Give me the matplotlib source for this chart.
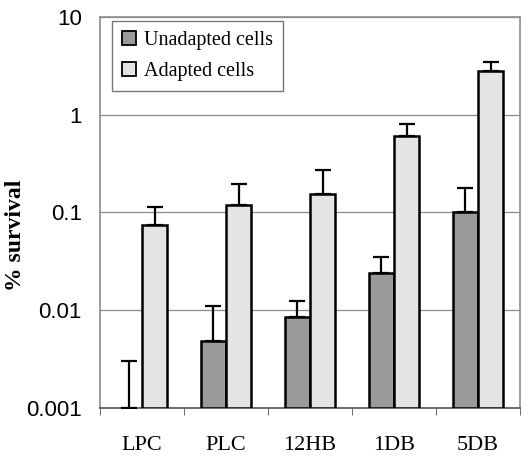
import matplotlib
matplotlib.use("Agg")
import matplotlib.pyplot as plt
from matplotlib.patches import Patch
import numpy as np

categories = ["LPC", "PLC", "12HB", "1DB", "5DB"]
unadapted = [0.0, 0.0049, 0.0086, 0.024, 0.10]
unadapted_err_top = [0.003, 0.011, 0.0125, 0.035, 0.18]
adapted = [0.074, 0.118, 0.153, 0.60, 2.8]
adapted_err_top = [0.115, 0.198, 0.275, 0.81, 3.45]
yticks = [0.001, 0.01, 0.1, 1, 10]
ytick_labels = ["0.001", "0.01", "0.1", "1", "10"]
series_names = ["Unadapted cells", "Adapted cells"]
series_colors = ["#9a9a9a", "#e4e4e4"]

fig = plt.figure(figsize=(5.30, 4.61), dpi=100)
ax = fig.add_axes([100/530, 1-408/461, 420/530, 391/461])

x = np.arange(len(categories))
w = 0.3
bottom = 0.001
un_h = [max(v, bottom) - bottom for v in unadapted]
ad_h = [v - bottom for v in adapted]

ub = ax.bar(x - w/2, un_h, w, bottom=bottom, color=series_colors[0], edgecolor="black",
            linewidth=1.8, zorder=3)
ax.bar(x + w/2, ad_h, w, bottom=bottom, color=series_colors[1], edgecolor="black",
       linewidth=1.8, zorder=3)
for p, v in zip(ub.patches, unadapted):
    if v <= bottom:
        p.set_visible(False)

un_base = [max(v, bottom) for v in unadapted]
for xi, b, t in zip(x - w/2, un_base, unadapted_err_top):
    ax.errorbar([xi], [b], yerr=[[0], [t - b]], fmt="none", ecolor="black",
                elinewidth=1.6, capsize=6, capthick=1.6, zorder=4)
for xi, b, t in zip(x + w/2, adapted, adapted_err_top):
    ax.errorbar([xi], [b], yerr=[[0], [t - b]], fmt="none", ecolor="black",
                elinewidth=1.6, capsize=6, capthick=1.6, zorder=4)

ax.set_yscale("log")
ax.set_ylim(0.001, 10)
ax.set_xlim(-0.5, len(categories) - 0.5)
ax.set_yticks(yticks)
ax.set_yticklabels(ytick_labels, fontfamily="Liberation Sans", fontsize=16)
ax.yaxis.set_minor_locator(matplotlib.ticker.NullLocator())
ax.tick_params(axis="y", length=0, pad=13)
ax.set_xticks(x)
ax.set_xticklabels(categories, fontfamily="Liberation Serif", fontsize=16)
ax.tick_params(axis="x", length=0, pad=20)
ax.set_xticks(np.arange(len(categories) + 1) - 0.5, minor=True)
ax.tick_params(axis="x", which="minor", length=5, color="#555555")
ax.grid(axis="y", which="major", color="#8c8c8c", linewidth=0.9, zorder=0)
for s in ["top", "right", "left"]:
    ax.spines[s].set_color("#8c8c8c")
    ax.spines[s].set_linewidth(1.2)
ax.spines["bottom"].set_color("#555555")
ax.spines["bottom"].set_linewidth(1.2)

fig.text(16/530, 1-235/461, "% survival", rotation=90, ha="center", va="center",
         fontfamily="Liberation Serif", fontweight="bold", fontsize=17)

handles = [Patch(facecolor=c, edgecolor="black", linewidth=1.3) for c in series_colors]
leg = ax.legend(handles, series_names, loc="upper left", bbox_to_anchor=(0.029, 0.99),
                borderaxespad=0,
                prop={"family": "Liberation Serif", "size": 14.5},
                frameon=True, fancybox=False, edgecolor="#555555",
                handlelength=0.7, handleheight=0.7, handletextpad=0.4,
                borderpad=0.5, labelspacing=0.6)
leg.get_frame().set_linewidth(1.0)

fig.savefig("out.png", dpi=100)
